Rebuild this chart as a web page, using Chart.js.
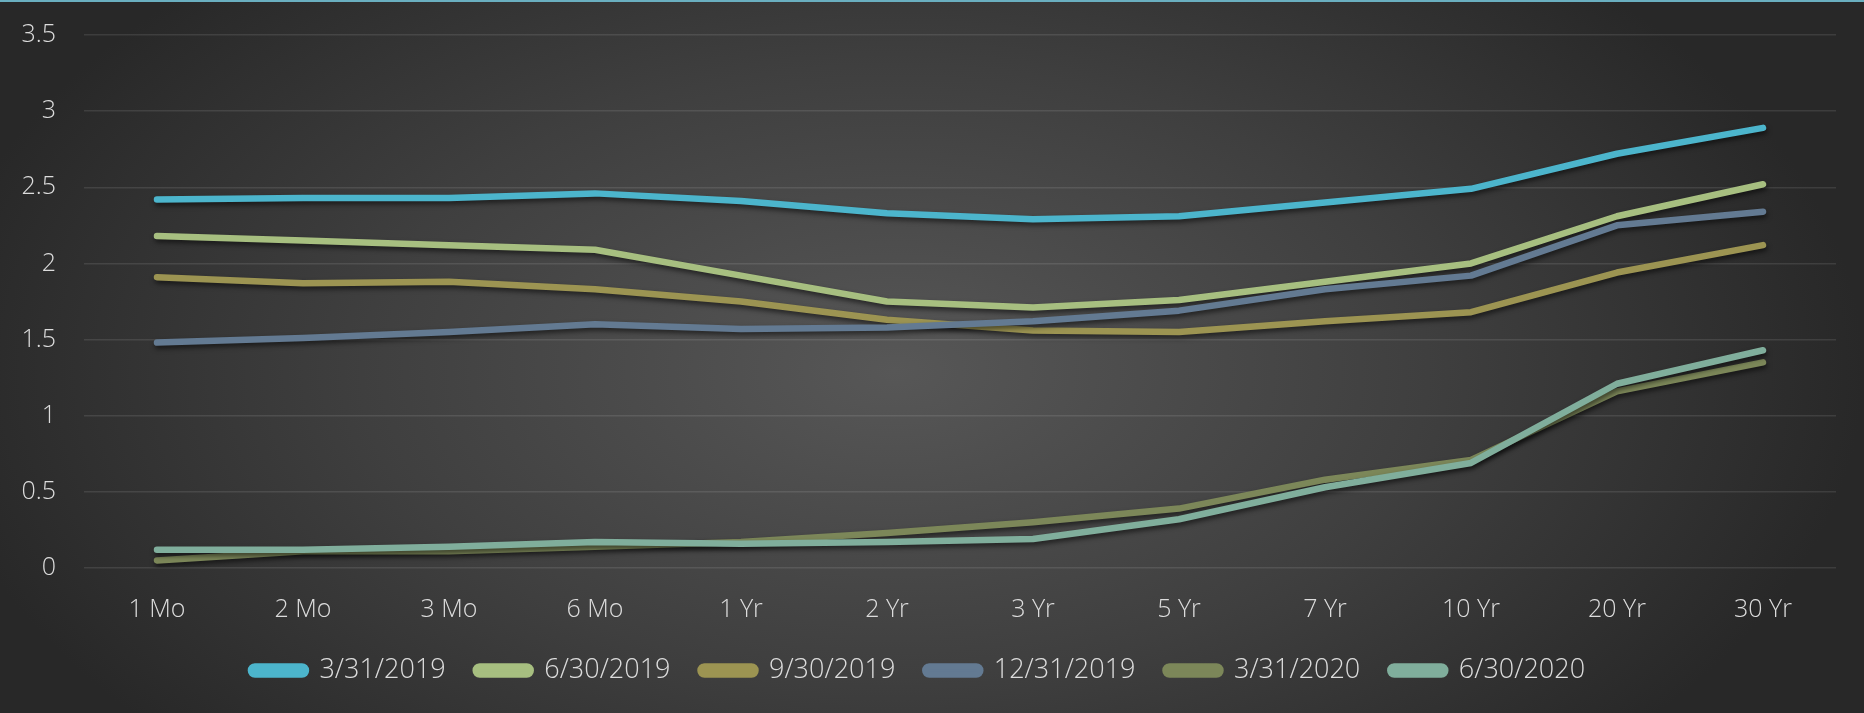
<!DOCTYPE html>
<html>
<head>
<meta charset="utf-8">
<script src="https://cdn.jsdelivr.net/npm/chart.js@4.4.1/dist/chart.umd.min.js"></script>
<style>
  html, body { margin: 0; padding: 0; }
  body {
    width: 1864px; height: 713px; overflow: hidden; position: relative;
    background: radial-gradient(ellipse 52% 78% at 48% 52%, #575757 0%, #3f3f3f 55%, #282828 100%);
  }
  #topline { position: absolute; left: 0; top: 0; width: 1864px; height: 2px; background: #6aafc0; }
  #wrap { position: absolute; left: 0; top: 0; width: 1864px; height: 713px; }
</style>
</head>
<body>
<div id="topline"></div>
<div id="wrap"><canvas id="yieldChart"></canvas></div>
<script>
var categories = ['1 Mo', '2 Mo', '3 Mo', '6 Mo', '1 Yr', '2 Yr', '3 Yr', '5 Yr', '7 Yr', '10 Yr', '20 Yr', '30 Yr'];
var seriesNames = ['3/31/2019', '6/30/2019', '9/30/2019', '12/31/2019', '3/31/2020', '6/30/2020'];
var mar2019 = [2.42, 2.43, 2.43, 2.46, 2.41, 2.33, 2.29, 2.31, 2.40, 2.49, 2.72, 2.89];
var jun2019 = [2.18, 2.15, 2.12, 2.09, 1.92, 1.75, 1.71, 1.76, 1.88, 2.00, 2.31, 2.52];
var sep2019 = [1.91, 1.87, 1.88, 1.83, 1.75, 1.63, 1.56, 1.55, 1.62, 1.68, 1.94, 2.12];
var dec2019 = [1.48, 1.51, 1.55, 1.60, 1.57, 1.58, 1.62, 1.69, 1.83, 1.92, 2.25, 2.34];
var mar2020 = [0.05, 0.11, 0.11, 0.14, 0.17, 0.23, 0.30, 0.39, 0.58, 0.71, 1.16, 1.35];
var jun2020 = [0.12, 0.12, 0.14, 0.17, 0.16, 0.17, 0.19, 0.32, 0.53, 0.69, 1.21, 1.43];
var yTicks = [0, 0.5, 1, 1.5, 2, 2.5, 3, 3.5];

var colors = ['#4cb5cc', '#a7bf80', '#9c9452', '#637a92', '#7c8759', '#80ae9c'];
var values = [mar2019, jun2019, sep2019, dec2019, mar2020, jun2020];

var lineShadow = {
  id: 'lineShadow',
  beforeDatasetsDraw: function (chart) {
    var c = chart.ctx;
    c.save();
    c.shadowColor = 'rgba(0,0,0,0.55)';
    c.shadowBlur = 5;
    c.shadowOffsetX = 1;
    c.shadowOffsetY = 3;
  },
  afterDatasetsDraw: function (chart) {
    chart.ctx.restore();
  }
};

var font = "'Open Sans', 'DejaVu Sans', sans-serif";

new Chart(document.getElementById('yieldChart'), {
  type: 'line',
  data: {
    labels: categories,
    datasets: values.map(function (v, i) {
      return {
        label: seriesNames[i],
        data: v,
        borderColor: colors[i],
        backgroundColor: colors[i],
        borderWidth: 6.5,
        borderCapStyle: 'round',
        borderJoinStyle: 'round',
        pointRadius: 0,
        tension: 0,
        order: 6 - i
      };
    })
  },
  plugins: [lineShadow],
  options: {
    responsive: true,
    maintainAspectRatio: false,
    animation: false,
    layout: { padding: { top: 35, right: 28, bottom: 19, left: 0 } },
    plugins: {
      tooltip: { enabled: false },
      legend: {
        position: 'bottom',
        labels: {
          color: '#dcdcdc',
          font: { family: font, size: 27, weight: '300' },
          boxWidth: 55,
          boxHeight: 8,
          useBorderRadius: true,
          borderRadius: 4,
          padding: 30,
          sort: function (a, b) { return a.datasetIndex - b.datasetIndex; }
        }
      }
    },
    scales: {
      x: {
        offset: true,
        afterFit: function (scale) { scale.height -= 17; scale.paddingLeft = 0; scale.paddingRight = 0; },
        grid: { display: false },
        border: { display: false },
        ticks: { color: '#dcdcdc', font: { family: font, size: 25, weight: '300' }, padding: 19 }
      },
      y: {
        min: 0,
        max: 3.5,
        afterFit: function (scale) { scale.width = 84; scale.paddingTop = 0; scale.paddingBottom = 0; },
        afterBuildTicks: function (scale) {
          scale.ticks = yTicks.map(function (t) { return { value: t }; });
        },
        grid: { color: 'rgba(255,255,255,0.1)', lineWidth: 1.5, drawTicks: false },
        border: { display: false },
        ticks: {
          color: '#dcdcdc',
          font: { family: font, size: 25, weight: '300' },
          padding: 28,
          callback: function (v) { return String(v); }
        }
      }
    }
  }
});
</script>
</body>
</html>
